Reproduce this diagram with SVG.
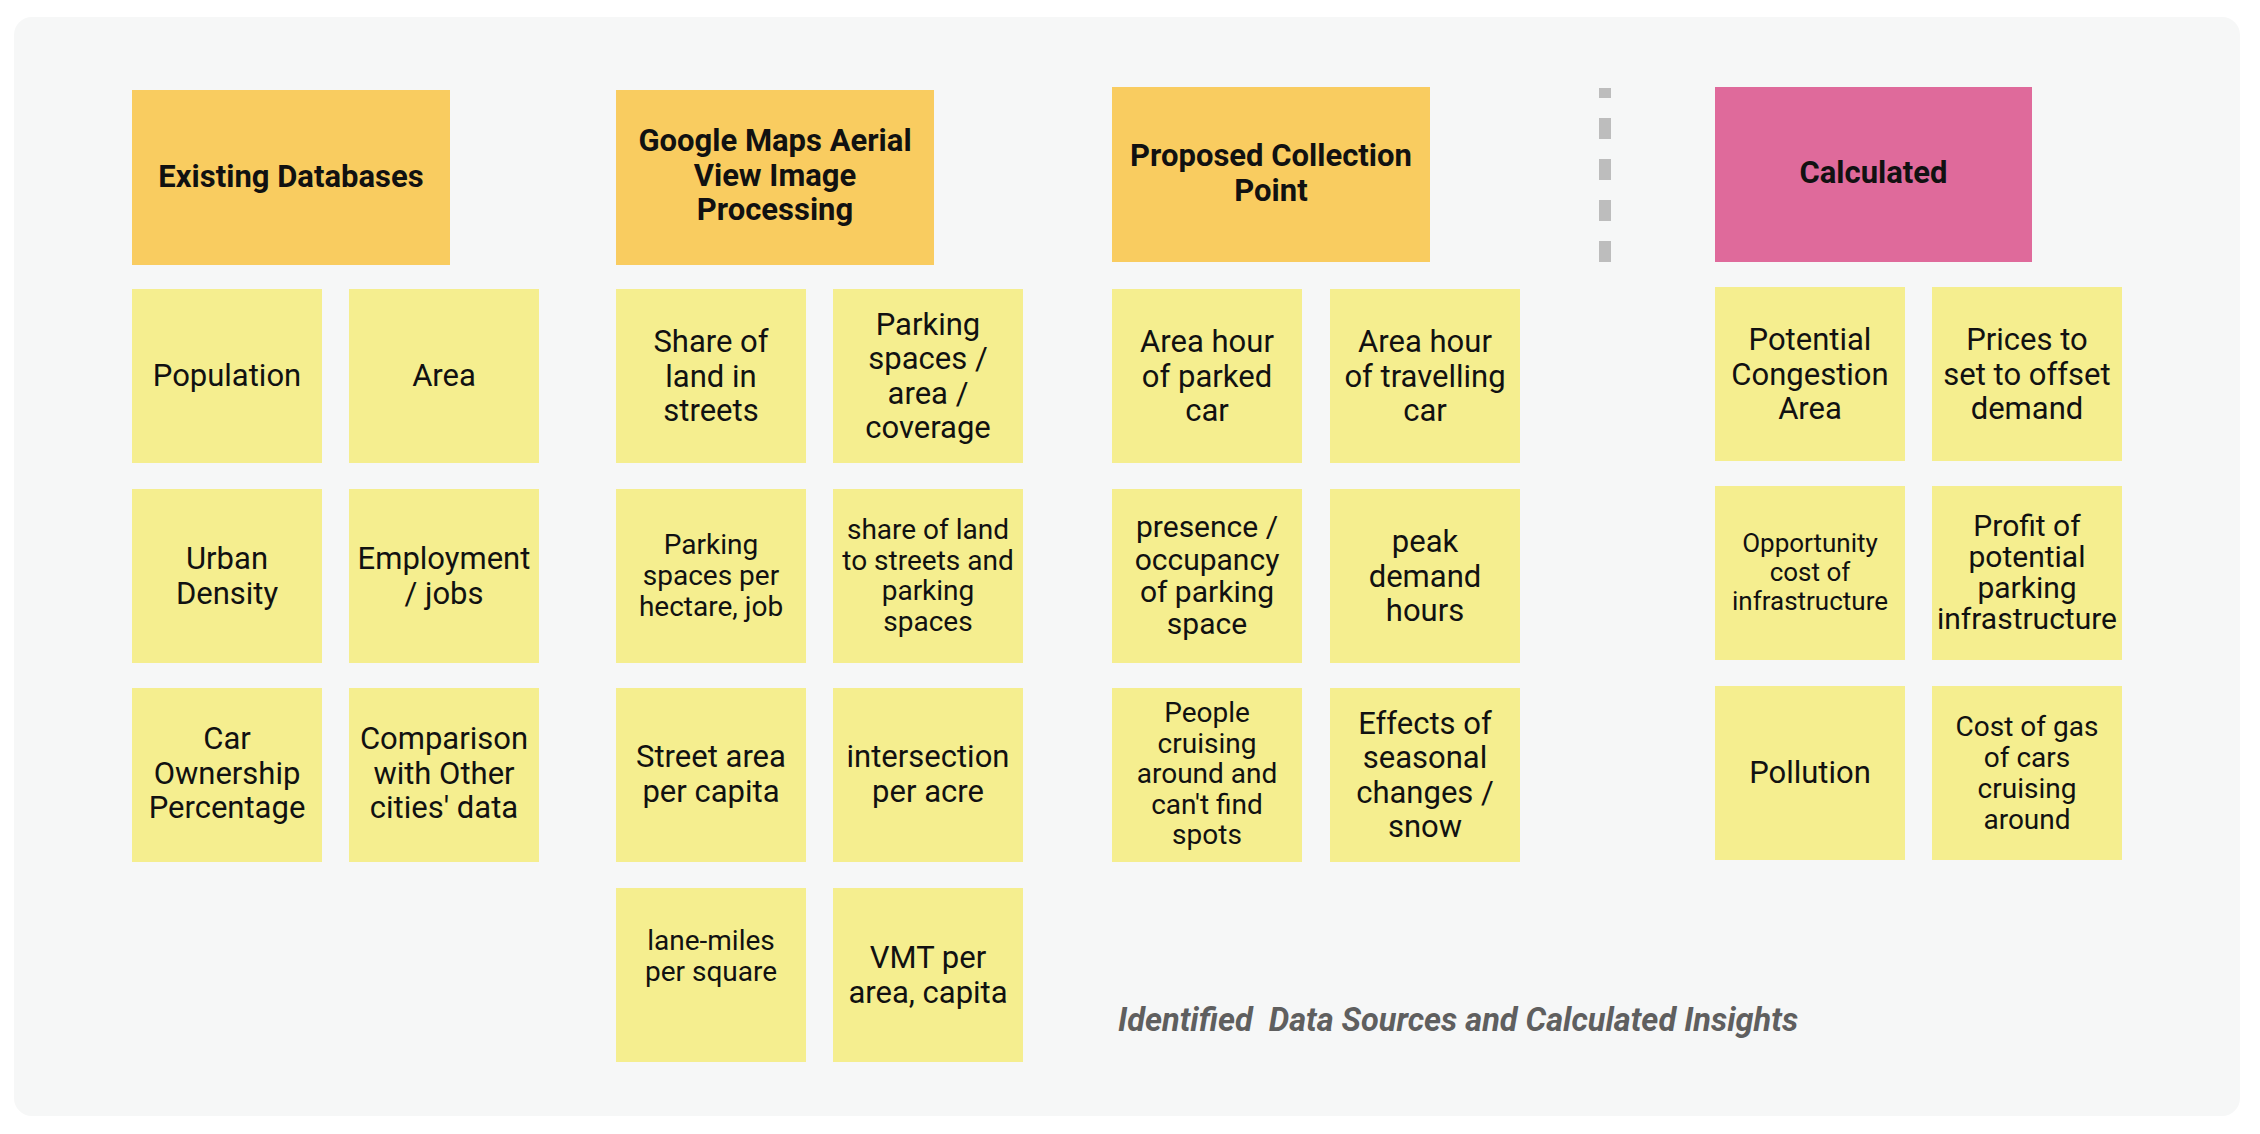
<svg xmlns="http://www.w3.org/2000/svg" width="2260" height="1134" viewBox="0 0 2260 1134">
<style>
.hd{fill:#F9CC60}
.pk{fill:#DF6A9B}
.st{fill:#F5EE8F}
text{font-family:Roboto,"Liberation Sans",sans-serif;fill:#111;text-anchor:middle}
.b{font-weight:700;font-size:31px}
.n{font-size:31px}
.m{font-size:30px}
.s{font-size:28px}
.x{font-size:26px}
.cap{font-weight:700;font-style:italic;font-size:32.5px;fill:#5f5f5f;text-anchor:start;white-space:pre}
</style>
<rect x="0" y="0" width="2260" height="1134" fill="#ffffff"/>
<rect x="14" y="17" width="2226" height="1099" rx="18" fill="#F6F7F7"/>

<g id="connectors">
<line x1="1605" y1="262" x2="1605" y2="88" stroke="#BDBDBD" stroke-width="12" stroke-dasharray="21 20"/>
</g>

<g id="h-existing"><rect class="hd" x="132" y="90" width="318" height="175"/><text class="b" x="291" y="187">Existing Databases</text></g>
<g id="h-google"><rect class="hd" x="616" y="90" width="318" height="175"/><text class="b" x="775"><tspan x="775" y="151">Google Maps Aerial</tspan><tspan x="775" y="185.5">View Image</tspan><tspan x="775" y="220">Processing</tspan></text></g>
<g id="h-proposed"><rect class="hd" x="1112" y="87" width="318" height="175"/><text class="b" x="1271"><tspan x="1271" y="166">Proposed Collection</tspan><tspan x="1271" y="200.5">Point</tspan></text></g>
<g id="h-calculated"><rect class="pk" x="1715" y="87" width="317" height="175"/><text class="b" x="1873.5" y="183">Calculated</text></g>

<g id="population"><rect class="st" x="132" y="289" width="190" height="174"/><text class="n" x="227" y="386">Population</text></g>
<g id="area"><rect class="st" x="349" y="289" width="190" height="174"/><text class="n" x="444" y="386">Area</text></g>
<g id="share-land-streets"><rect class="st" x="616" y="289" width="190" height="174"/><text class="n"><tspan x="711" y="352">Share of</tspan><tspan x="711" y="386.5">land in</tspan><tspan x="711" y="421">streets</tspan></text></g>
<g id="parking-spaces-area"><rect class="st" x="833" y="289" width="190" height="174"/><text class="n"><tspan x="928" y="334.5">Parking</tspan><tspan x="928" y="369">spaces /</tspan><tspan x="928" y="403.5">area /</tspan><tspan x="928" y="438">coverage</tspan></text></g>
<g id="area-hour-parked"><rect class="st" x="1112" y="289" width="190" height="174"/><text class="n"><tspan x="1207" y="352">Area hour</tspan><tspan x="1207" y="386.5">of parked</tspan><tspan x="1207" y="421">car</tspan></text></g>
<g id="area-hour-travelling"><rect class="st" x="1330" y="289" width="190" height="174"/><text class="n"><tspan x="1425" y="352">Area hour</tspan><tspan x="1425" y="386.5">of travelling</tspan><tspan x="1425" y="421">car</tspan></text></g>
<g id="potential-congestion"><rect class="st" x="1715" y="287" width="190" height="174"/><text class="n"><tspan x="1810" y="350">Potential</tspan><tspan x="1810" y="384.5">Congestion</tspan><tspan x="1810" y="419">Area</tspan></text></g>
<g id="prices-offset"><rect class="st" x="1932" y="287" width="190" height="174"/><text class="n"><tspan x="2027" y="350">Prices to</tspan><tspan x="2027" y="384.5">set to offset</tspan><tspan x="2027" y="419">demand</tspan></text></g>

<g id="urban-density"><rect class="st" x="132" y="489" width="190" height="174"/><text class="n"><tspan x="227" y="569">Urban</tspan><tspan x="227" y="603.5">Density</tspan></text></g>
<g id="employment"><rect class="st" x="349" y="489" width="190" height="174"/><text class="n"><tspan x="444" y="569">Employment</tspan><tspan x="444" y="603.5">/ jobs</tspan></text></g>
<g id="parking-per-hectare"><rect class="st" x="616" y="489" width="190" height="174"/><text class="s"><tspan x="711" y="554">Parking</tspan><tspan x="711" y="585">spaces per</tspan><tspan x="711" y="616">hectare, job</tspan></text></g>
<g id="share-land-parking"><rect class="st" x="833" y="489" width="190" height="174"/><text class="s"><tspan x="928" y="539">share of land</tspan><tspan x="928" y="569.5">to streets and</tspan><tspan x="928" y="600">parking</tspan><tspan x="928" y="630.5">spaces</tspan></text></g>
<g id="presence-occupancy"><rect class="st" x="1112" y="489" width="190" height="174"/><text class="m"><tspan x="1207" y="537">presence /</tspan><tspan x="1207" y="569.5">occupancy</tspan><tspan x="1207" y="602">of parking</tspan><tspan x="1207" y="634">space</tspan></text></g>
<g id="peak-demand"><rect class="st" x="1330" y="489" width="190" height="174"/><text class="n"><tspan x="1425" y="552">peak</tspan><tspan x="1425" y="586.5">demand</tspan><tspan x="1425" y="621">hours</tspan></text></g>
<g id="opportunity-cost"><rect class="st" x="1715" y="486" width="190" height="174"/><text class="x"><tspan x="1810" y="552">Opportunity</tspan><tspan x="1810" y="581">cost of</tspan><tspan x="1810" y="610">infrastructure</tspan></text></g>
<g id="profit-parking"><rect class="st" x="1932" y="486" width="190" height="174"/><text class="m"><tspan x="2027" y="536">Profit of</tspan><tspan x="2027" y="567">potential</tspan><tspan x="2027" y="598">parking</tspan><tspan x="2027" y="629">infrastructure</tspan></text></g>

<g id="car-ownership"><rect class="st" x="132" y="688" width="190" height="174"/><text class="n"><tspan x="227" y="749">Car</tspan><tspan x="227" y="783.5">Ownership</tspan><tspan x="227" y="818">Percentage</tspan></text></g>
<g id="comparison"><rect class="st" x="349" y="688" width="190" height="174"/><text class="n"><tspan x="444" y="749">Comparison</tspan><tspan x="444" y="783.5">with Other</tspan><tspan x="444" y="818">cities' data</tspan></text></g>
<g id="street-area"><rect class="st" x="616" y="688" width="190" height="174"/><text class="n"><tspan x="711" y="767">Street area</tspan><tspan x="711" y="801.5">per capita</tspan></text></g>
<g id="intersection"><rect class="st" x="833" y="688" width="190" height="174"/><text class="n"><tspan x="928" y="767">intersection</tspan><tspan x="928" y="801.5">per acre</tspan></text></g>
<g id="people-cruising"><rect class="st" x="1112" y="688" width="190" height="174"/><text class="s"><tspan x="1207" y="722">People</tspan><tspan x="1207" y="752.5">cruising</tspan><tspan x="1207" y="783">around and</tspan><tspan x="1207" y="813.5">can't find</tspan><tspan x="1207" y="844">spots</tspan></text></g>
<g id="seasonal"><rect class="st" x="1330" y="688" width="190" height="174"/><text class="n"><tspan x="1425" y="733.5">Effects of</tspan><tspan x="1425" y="768">seasonal</tspan><tspan x="1425" y="802.5">changes /</tspan><tspan x="1425" y="837">snow</tspan></text></g>
<g id="pollution"><rect class="st" x="1715" y="686" width="190" height="174"/><text class="n" x="1810" y="783">Pollution</text></g>
<g id="cost-gas"><rect class="st" x="1932" y="686" width="190" height="174"/><text class="s"><tspan x="2027" y="736">Cost of gas</tspan><tspan x="2027" y="767">of cars</tspan><tspan x="2027" y="798">cruising</tspan><tspan x="2027" y="829">around</tspan></text></g>

<g id="lane-miles"><rect class="st" x="616" y="888" width="190" height="174"/><text class="s"><tspan x="711" y="950">lane-miles</tspan><tspan x="711" y="981">per square</tspan></text></g>
<g id="vmt"><rect class="st" x="833" y="888" width="190" height="174"/><text class="n"><tspan x="928" y="968">VMT per</tspan><tspan x="928" y="1002.5">area, capita</tspan></text></g>

<text class="cap" x="1118" y="1031">Identified  Data Sources and Calculated Insights</text>
</svg>
